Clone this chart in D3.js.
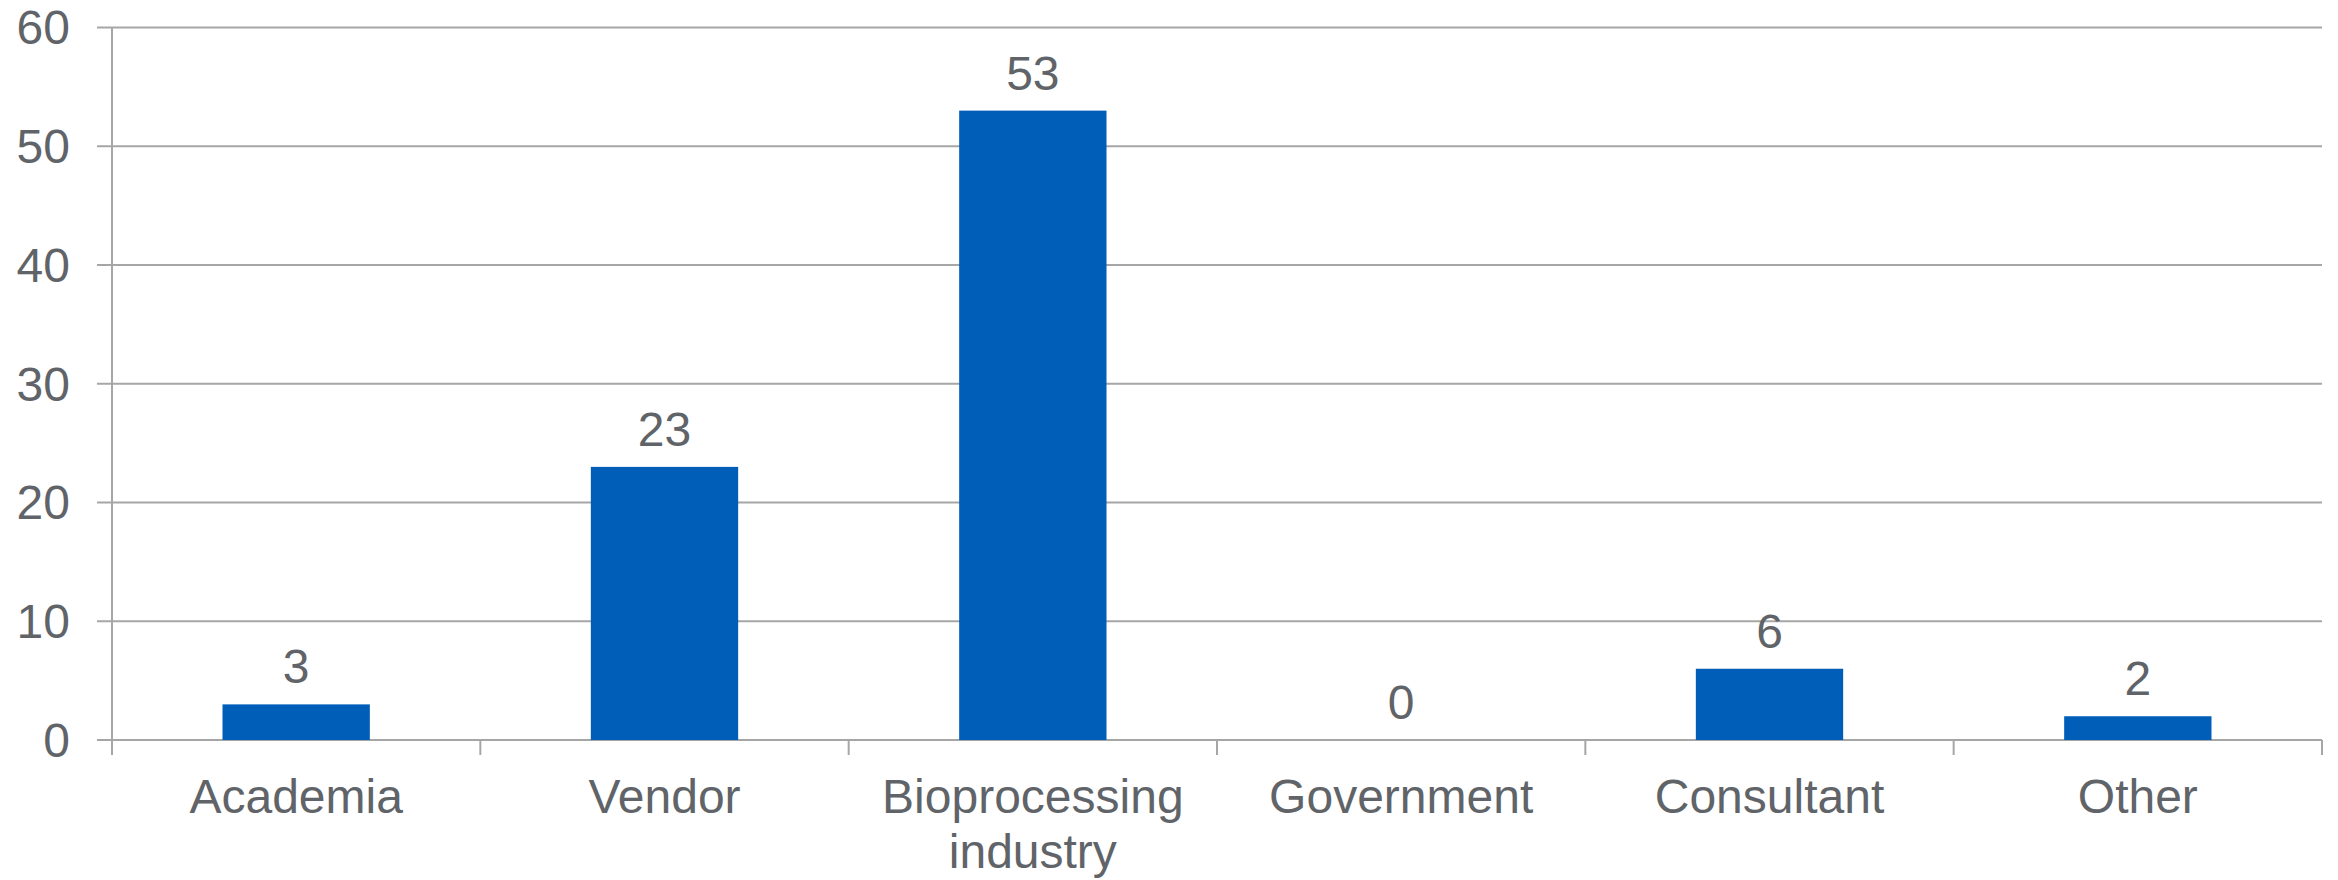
<!DOCTYPE html>
<html>
<head>
<meta charset="utf-8">
<title>Respondents</title>
<script src="https://cdn.jsdelivr.net/npm/d3@7"></script>
<style>
  body { margin: 0; background: #fff; }
  text { font-family: "Liberation Sans", Arial, sans-serif; fill: #606469; }
</style>
</head>
<body>
<script>
// data
var categories = ["Academia", "Vendor", "Bioprocessing industry", "Government", "Consultant", "Other"];
var labelLines = [["Academia"], ["Vendor"], ["Bioprocessing", "industry"], ["Government"], ["Consultant"], ["Other"]];
var values = [3, 23, 53, 0, 6, 2];
var yTicks = [0, 10, 20, 30, 40, 50, 60];

var w = 2338, h = 880;
var margin = {top: 27.5, right: 16, bottom: 140, left: 112};
var fontSize = 48;
var gridColor = "#a6a6a6";
var barColor = "#005eb8";

var svg = d3.select("body").append("svg")
  .attr("width", w)
  .attr("height", h);

var x = d3.scaleBand()
  .domain(categories)
  .range([margin.left, w - margin.right])
  .paddingInner(0.6)
  .paddingOuter(0.3);

var y = d3.scaleLinear()
  .domain([0, 60])
  .range([h - margin.bottom, margin.top]);

var step = x.step();
var bandStart = x.range()[0];

// gridlines
svg.append("g").selectAll("line")
  .data(yTicks)
  .enter().append("line")
  .attr("x1", margin.left - 15)
  .attr("x2", w - margin.right)
  .attr("y1", function(d) { return y(d); })
  .attr("y2", function(d) { return y(d); })
  .attr("stroke", gridColor)
  .attr("stroke-width", 2);

// y labels
svg.append("g").selectAll("text")
  .data(yTicks)
  .enter().append("text")
  .text(function(d) { return d; })
  .attr("x", 70)
  .attr("y", function(d) { return y(d); })
  .attr("dy", "0.35em")
  .attr("text-anchor", "end")
  .attr("font-size", fontSize);

// y axis line
svg.append("line")
  .attr("x1", margin.left).attr("x2", margin.left)
  .attr("y1", y(60)).attr("y2", y(0) + 15)
  .attr("stroke", gridColor)
  .attr("stroke-width", 2);

// x tick marks at category boundaries
var bounds = d3.range(categories.length + 1).map(function(i) { return bandStart + i * step; });
svg.append("g").selectAll("line")
  .data(bounds.slice(1))
  .enter().append("line")
  .attr("x1", function(d) { return d; })
  .attr("x2", function(d) { return d; })
  .attr("y1", y(0))
  .attr("y2", y(0) + 15)
  .attr("stroke", gridColor)
  .attr("stroke-width", 2);

// bars
svg.append("g").selectAll("rect")
  .data(values)
  .enter().append("rect")
  .attr("x", function(d, i) { return x(categories[i]); })
  .attr("width", x.bandwidth())
  .attr("y", function(d) { return y(d); })
  .attr("height", function(d) { return y(0) - y(d); })
  .attr("fill", barColor);

// value labels
svg.append("g").selectAll("text")
  .data(values)
  .enter().append("text")
  .text(function(d) { return d; })
  .attr("x", function(d, i) { return x(categories[i]) + x.bandwidth() / 2; })
  .attr("y", function(d) { return y(d) - 21; })
  .attr("text-anchor", "middle")
  .attr("font-size", fontSize);

// category labels
var lab = svg.append("g").selectAll("text")
  .data(labelLines)
  .enter().append("text")
  .attr("x", function(d, i) { return x(categories[i]) + x.bandwidth() / 2; })
  .attr("y", y(0) + 73)
  .attr("text-anchor", "middle")
  .attr("font-size", fontSize);

lab.selectAll("tspan")
  .data(function(d) { return d; })
  .enter().append("tspan")
  .attr("x", function() { return d3.select(this.parentNode).attr("x"); })
  .attr("dy", function(d, i) { return i === 0 ? 0 : 55; })
  .text(function(d) { return d; });
</script>
</body>
</html>
